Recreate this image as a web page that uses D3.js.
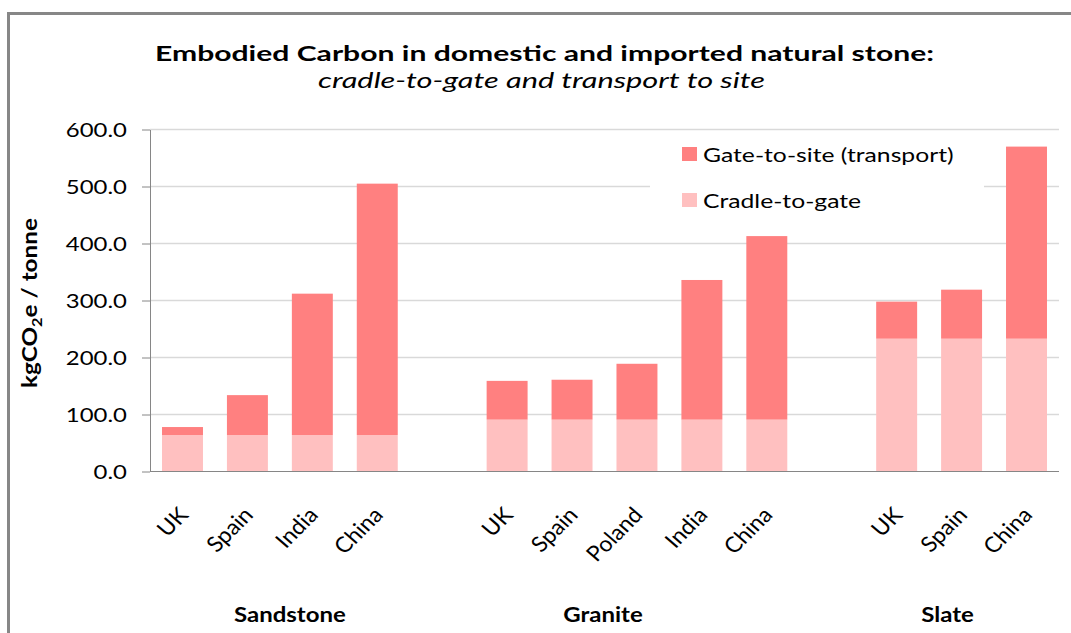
<!DOCTYPE html>
<html>
<head>
<meta charset="utf-8">
<script src="https://cdn.jsdelivr.net/npm/d3@7"></script>
<style>
  body { margin: 0; background: #fff; }
  svg { display: block; }
  text { font-family: Lato, "Open Sans", sans-serif; fill: #000; }
</style>
</head>
<body>
<svg id="chart" width="1071" height="633"></svg>
<script>
// Stone types and the source countries within each group
const stones = ["Sandstone", "Granite", "Slate"];
const sandstoneSources = ["UK", "Spain", "India", "China"];
const graniteSources = ["UK", "Spain", "Poland", "India", "China"];
const slateSources = ["UK", "Spain", "China"];

// kgCO2e per tonne: cradle-to-gate and gate-to-site (transport)
const sandstoneCradle = [64, 64, 64, 64];
const sandstoneTransport = [14, 70, 248, 441];
const graniteCradle = [91, 91, 91, 91, 91];
const graniteTransport = [68, 70, 98, 245, 322];
const slateCradle = [233, 233, 233];
const slateTransport = [65, 86, 337];

const yTicks = [0, 100, 200, 300, 400, 500, 600];
const seriesNames = ["Gate-to-site (transport)", "Cradle-to-gate"];

// ---- assemble rows (with an empty slot between stone groups) ----
const groups = [
  { stone: stones[0], sources: sandstoneSources, cradle: sandstoneCradle, transport: sandstoneTransport },
  { stone: stones[1], sources: graniteSources, cradle: graniteCradle, transport: graniteTransport },
  { stone: stones[2], sources: slateSources, cradle: slateCradle, transport: slateTransport }
];
const rows = [];
const slots = [];
groups.forEach((g, gi) => {
  if (gi > 0) slots.push("gap" + gi);
  g.sources.forEach((s, i) => {
    const key = g.stone + "|" + s;
    slots.push(key);
    rows.push({ key, stone: g.stone, source: s, cradle: g.cradle[i], transport: g.transport[i] });
  });
});

const svg = d3.select("#chart");

const plot = { left: 150, right: 1059, top: 129.5, bottom: 471.5 };

const x = d3.scaleBand()
  .domain(slots)
  .range([plot.left, plot.right])
  .paddingInner(0.369)
  .paddingOuter(0.185);

const y = d3.scaleLinear()
  .domain([0, 600])
  .range([plot.bottom, plot.top]);

const colors = { transport: "#FF8080", cradle: "#FFC0C0" };

// outer frame
svg.append("path")
  .attr("d", "M8.5,633 V13.5 H1071")
  .attr("fill", "none")
  .attr("stroke", "#878787")
  .attr("stroke-width", 3);

// gridlines
svg.append("g")
  .selectAll("line")
  .data(yTicks.filter(d => d > 0))
  .join("line")
  .attr("x1", plot.left).attr("x2", plot.right)
  .attr("y1", d => y(d)).attr("y2", d => y(d))
  .attr("stroke", "#d9d9d9")
  .attr("stroke-width", 1.5);

// legend background sits over the gridlines
const legend = svg.append("g");
legend.append("rect")
  .attr("x", 650).attr("y", 135)
  .attr("width", 334).attr("height", 90)
  .attr("fill", "#fff");

// stacked bars
const stack = d3.stack().keys(["cradle", "transport"]);
const layers = stack(rows);
svg.append("g")
  .selectAll("g")
  .data(layers)
  .join("g")
  .attr("fill", d => colors[d.key])
  .selectAll("rect")
  .data(d => d)
  .join("rect")
  .attr("x", d => x(d.data.key))
  .attr("width", x.bandwidth())
  .attr("y", d => y(d[1]))
  .attr("height", d => y(d[0]) - y(d[1]));

// y axis
const yAxis = svg.append("g")
  .attr("transform", `translate(${plot.left},0)`)
  .call(d3.axisLeft(y).tickValues(yTicks).tickFormat(d3.format(".1f")).tickSize(8).tickSizeOuter(0));
yAxis.select(".domain").attr("stroke", "#868686");
yAxis.selectAll(".tick line").attr("stroke", "#868686");
yAxis.selectAll(".tick text")
  .attr("x", 0)
  .attr("dy", null)
  .attr("transform", "translate(-23,7) scale(1.26,1)")
  .style("font-family", "Lato")
  .style("font-size", "19px")
  .attr("fill", "#000");

// x axis baseline
svg.append("line")
  .attr("x1", plot.left).attr("x2", plot.right)
  .attr("y1", y(0)).attr("y2", y(0))
  .attr("stroke", "#868686")
  .attr("stroke-width", 1.2);

// category labels, rotated
svg.append("g")
  .selectAll("text")
  .data(rows)
  .join("text")
  .attr("text-anchor", "end")
  .attr("transform", d => `translate(${x(d.key) + x.bandwidth() / 2 + 7},516) scale(1.08,1) rotate(-47)`)
  .style("font-size", "21.5px")
  .text(d => d.source);

// group labels
const groupLabelShift = [10, -34, -14];
svg.append("g")
  .selectAll("text")
  .data(groups)
  .join("text")
  .attr("text-anchor", "middle")
  .attr("transform", (g, i) => {
    const first = x(g.stone + "|" + g.sources[0]);
    const last = x(g.stone + "|" + g.sources[g.sources.length - 1]) + x.bandwidth();
    return `translate(${(first + last) / 2 + groupLabelShift[i]},622) scale(1.2,1)`;
  })
  .style("font-size", "20px")
  .style("font-weight", "bold")
  .text(g => g.stone);

// title and subtitle
svg.append("text")
  .attr("x", 155).attr("y", 61)
  .attr("textLength", 779)
  .attr("lengthAdjust", "spacingAndGlyphs")
  .style("font-size", "21px")
  .style("font-weight", "bold")
  .text("Embodied Carbon in domestic and imported natural stone:");

svg.append("text")
  .attr("x", 318).attr("y", 88)
  .attr("textLength", 447)
  .attr("lengthAdjust", "spacingAndGlyphs")
  .style("font-size", "20.5px")
  .style("font-style", "italic")
  .text("cradle-to-gate and transport to site");

// y axis title with subscript
const yTitle = svg.append("text")
  .attr("transform", "translate(37,303) rotate(-90)")
  .attr("text-anchor", "middle")
  .attr("textLength", 170)
  .attr("lengthAdjust", "spacingAndGlyphs")
  .style("font-size", "21px")
  .style("font-weight", "bold");
yTitle.append("tspan").text("kgCO");
yTitle.append("tspan").attr("dy", 5).style("font-size", "14px").text("2");
yTitle.append("tspan").attr("dy", -5).text("e / tonne");

// legend entries
const legendItems = [
  { name: seriesNames[0], color: colors.transport, y: 154 },
  { name: seriesNames[1], color: colors.cradle, y: 200 }
];
const li = legend.selectAll("g.item")
  .data(legendItems)
  .join("g")
  .attr("class", "item");
li.append("rect")
  .attr("x", 682).attr("y", d => d.y - 7)
  .attr("width", 15).attr("height", 14)
  .attr("fill", d => d.color);
li.append("text")
  .attr("transform", d => `translate(703,${d.y + 7.5}) scale(1.235,1)`)
  .style("font-size", "20px")
  .text(d => d.name);
</script>
</body>
</html>
